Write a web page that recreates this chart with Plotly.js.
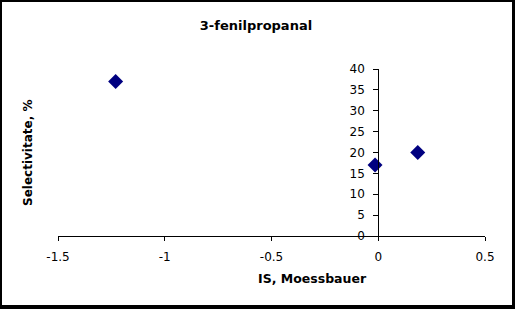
<!DOCTYPE html>
<html>
<head>
<meta charset="utf-8">
<script src="https://cdn.plot.ly/plotly-3.0.1.min.js"></script>
<style>
  html, body { margin: 0; padding: 0; background: #000; width: 515px; height: 309px; overflow: hidden; }
  #chart { position: absolute; left: 2px; top: 2px; width: 510px; height: 303px; background: #fff; }
</style>
</head>
<body>
<div id="chart"></div>
<script>
const chartTitle = "3-fenilpropanal";
const xTitle = "IS, Moessbauer";
const yTitle = "Selectivitate, %";
const isValues = [-1.23, -0.015, 0.185];
const selectivity = [37, 17, 20];
const xTicks = [-1.5, -1, -0.5, 0, 0.5];
const xTickLabels = ["-1.5", "-1", "-0.5", "0", "0.5"];
const yTicks = [0, 5, 10, 15, 20, 25, 30, 35, 40];
const yTickLabels = ["0", "5", "10", "15", "20", "25", "30", "35", "40"];

const font = "DejaVu Sans, Arial, sans-serif";

const trace = {
  x: isValues,
  y: selectivity,
  type: "scatter",
  mode: "markers",
  marker: { symbol: "diamond", size: 11.5, color: "#000080", line: { width: 0 } },
  cliponaxis: false,
  hoverinfo: "none"
};

const layout = {
  width: 510,
  height: 303,
  margin: { l: 56, r: 27, t: 67, b: 69 },
  paper_bgcolor: "#fff",
  plot_bgcolor: "rgba(0,0,0,0)",
  showlegend: false,
  font: { family: font, color: "#000", size: 12 },
  title: {
    text: "<b>" + chartTitle + "</b>",
    font: { family: font, size: 13, color: "#000" },
    x: 0.498, xanchor: "center", y: 0.921, yanchor: "middle"
  },
  xaxis: {
    range: [-1.5, 0.5],
    tickvals: xTicks,
    ticktext: xTickLabels,
    ticks: "outside",
    ticklen: 4,
    tickwidth: 1,
    tickcolor: "#000",
    showline: true,
    linecolor: "#000",
    linewidth: 1,
    showgrid: false,
    zeroline: false,
    ticklabelstandoff: 6,
    tickfont: { family: font, size: 12, color: "#000" }
  },
  yaxis: {
    range: [0, 40],
    tickvals: yTicks,
    ticktext: yTickLabels,
    anchor: "free",
    position: 0.75,
    ticks: "outside",
    ticklen: 5,
    tickwidth: 1,
    tickcolor: "#000",
    showline: true,
    linecolor: "#000",
    linewidth: 1,
    showgrid: false,
    zeroline: false,
    ticklabelstandoff: 6,
    tickfont: { family: font, size: 12, color: "#000" }
  },
  annotations: [
    {
      text: "<b>" + xTitle + "</b>",
      xref: "paper", yref: "paper",
      x: 0.595, y: -0.2515, xanchor: "center", yanchor: "middle",
      showarrow: false,
      font: { family: font, size: 12.5, color: "#000" }
    },
    {
      text: "<b>" + yTitle + "</b>",
      xref: "paper", yref: "paper",
      x: -0.0703, y: 0.497, xanchor: "center", yanchor: "middle",
      textangle: -90,
      showarrow: false,
      font: { family: font, size: 12, color: "#000" }
    }
  ]
};

Plotly.newPlot("chart", [trace], layout, { staticPlot: true, displayModeBar: false });
</script>
</body>
</html>
